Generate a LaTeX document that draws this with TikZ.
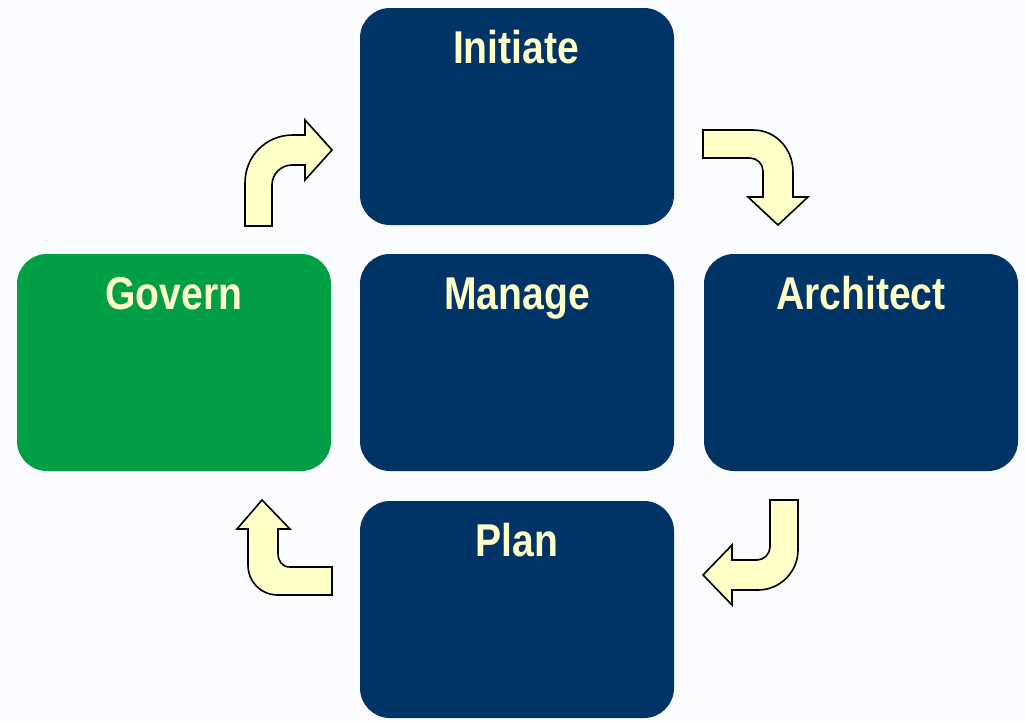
\documentclass[tikz,border=0pt]{standalone}
\usepackage{fontspec}
\setmainfont{Liberation Sans}
\definecolor{bg}{HTML}{FAFCFF}
\definecolor{navy}{HTML}{003366}
\definecolor{govgreen}{HTML}{009F45}
\definecolor{paleyel}{HTML}{FFFFC8}
\begin{document}
\begin{tikzpicture}[x=1pt,y=-1pt,
  box/.style={rectangle,rounded corners=30pt,minimum width=314pt,minimum height=217pt,inner sep=0pt,draw=none},
  title/.style={anchor=base,text=paleyel,font=\fontsize{46pt}{50pt}\selectfont\bfseries,inner sep=0pt},
  bent/.style={fill=paleyel,draw=black,line width=1.6pt,line join=miter}]
\fill[bg] (0,0) rectangle (1025,721);
\useasboundingbox (0,0) rectangle (1025,721);
% boxes
\node[box,fill=navy] (initiate) at (517,116.5) {};
\node[box,fill=govgreen] (govern) at (174,362.5) {};
\node[box,fill=navy] (manage) at (517,362.5) {};
\node[box,fill=navy] (architect) at (861,362.5) {};
\node[box,fill=navy] (plan) at (517,609.5) {};
% titles
\node[title] (initiateT) at (516,63) {\scalebox{0.85}[1]{Initiate}};
\node[title] (governT) at (174,309) {\scalebox{0.85}[1]{Govern}};
\node[title] (manageT) at (517,309) {\scalebox{0.85}[1]{Manage}};
\node[title] (architectT) at (861,309) {\scalebox{0.85}[1]{Architect}};
\node[title] (planT) at (517,556) {\scalebox{0.85}[1]{Plan}};
% bent arrows
\draw[bent] (245,226) -- (245,183) .. controls (245,156) and (266,135) .. (293,135) -- (305,135) -- (305,120) -- (332,150) -- (305,180) -- (305,165) -- (292,165) .. controls (281,165) and (272,174) .. (272,185) -- (272,226) -- cycle;
\draw[bent] (703,130) -- (753,130) .. controls (776,130) and (793,149) .. (793,172) -- (793,197) -- (808,197) -- (778,225) -- (748,197) -- (763,197) -- (763,171) .. controls (763,164) and (757,158) .. (750,158) -- (703,158) -- cycle;
\draw[bent] (770,500) -- (798,500) -- (798,550) .. controls (798,572) and (780,590) .. (758,590) -- (732,590) -- (732,605) -- (703,575) -- (732,545) -- (732,560) -- (757,560) .. controls (764,560) and (770,554) .. (770,547) -- cycle;
\draw[bent] (332,567) -- (332,595) -- (278,595) .. controls (261,595) and (248,582) .. (248,565) -- (248,529) -- (237,529) -- (262,500) -- (290,529) -- (278,529) -- (278,553) .. controls (278,561) and (282,567) .. (290,567) -- cycle;
\end{tikzpicture}
\end{document}
